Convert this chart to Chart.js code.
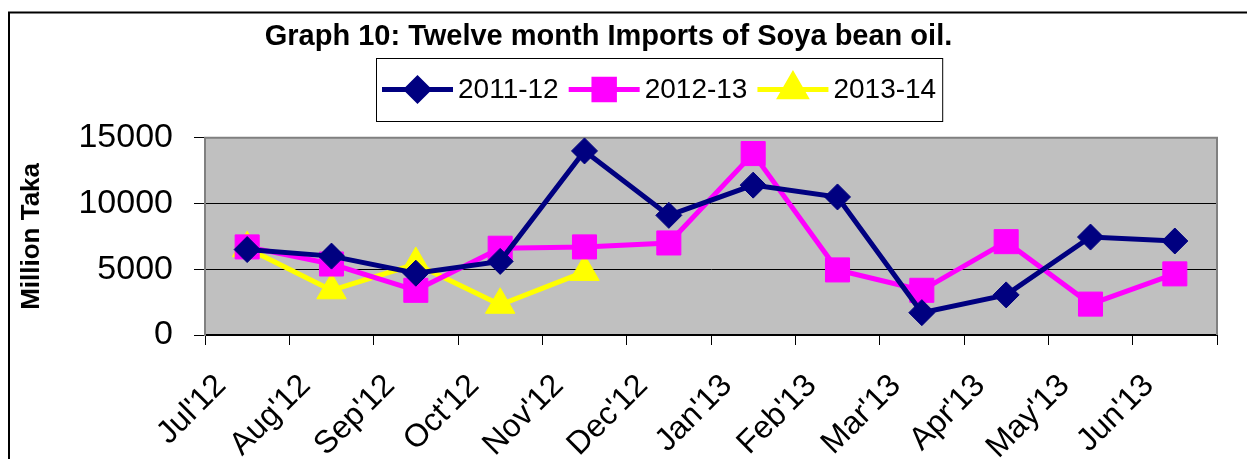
<!DOCTYPE html>
<html>
<head>
<meta charset="utf-8">
<script src="https://cdn.jsdelivr.net/npm/chart.js@4.4.0/dist/chart.umd.min.js"></script>
<style>
  html, body { margin: 0; padding: 0; background: #fff; }
  #wrap { position: relative; width: 1247px; height: 459px; }
</style>
</head>
<body>
<div id="wrap"><canvas id="chart"></canvas></div>
<script>
// Meses del eje x
const months = ["Jul'12", "Aug'12", "Sep'12", "Oct'12", "Nov'12", "Dec'12",
                "Jan'13", "Feb'13", "Mar'13", "Apr'13", "May'13", "Jun'13"];

// Importaciones (millones de Taka)
const imports1112 = [6500, 6000, 4700, 5600, 14000, 9100, 11400, 10500, 1700, 3050, 7450, 7150];
const imports1213 = [6700, 5400, 3400, 6600, 6700, 7000, 13800, 4950, 3400, 7100, 2350, 4650];
const imports1314 = [6600, 3400, 5400, 2300, 4800];

const seriesLabels = ['2011-12', '2012-13', '2013-14'];
const yTicks = [0, 5000, 10000, 15000];

const FONT = 'Arial, "Liberation Sans", sans-serif';

// Fondo gris del area de trazado y marco exterior
const plotBackground = {
  id: 'plotBackground',
  beforeDraw(chart) {
    const { ctx, chartArea: a } = chart;
    ctx.save();
    ctx.fillStyle = '#fff';
    ctx.fillRect(0, 0, chart.width, chart.height);
    ctx.fillStyle = '#C0C0C0';
    ctx.fillRect(a.left, a.top, a.right - a.left, a.bottom - a.top);
    ctx.restore();
  },
  beforeDatasetsDraw(chart) {
    const { ctx, chartArea: a } = chart;
    ctx.save();
    ctx.strokeStyle = '#808080';
    ctx.lineWidth = 2;
    ctx.beginPath();
    ctx.moveTo(a.left, a.bottom);
    ctx.lineTo(a.left, a.top);
    ctx.lineTo(a.right, a.top);
    ctx.lineTo(a.right, a.bottom);
    ctx.stroke();
    ctx.restore();
  },
  afterDraw(chart) {
    const ctx = chart.ctx;
    ctx.save();
    ctx.strokeStyle = '#000';
    ctx.lineWidth = 2;
    ctx.beginPath();
    ctx.moveTo(9, chart.height);
    ctx.lineTo(9, 12.5);
    ctx.lineTo(chart.width, 12.5);
    ctx.stroke();
    ctx.restore();
  }
};

// Leyenda con recuadro: linea + marcador + texto
const boxedLegend = {
  id: 'boxedLegend',
  afterDraw(chart) {
    const ctx = chart.ctx;
    const left = 376, top = 58, height = 63;
    const midY = top + height / 2;
    const lineLen = 71, gap = 5, itemGap = 10, pad = 6;
    ctx.save();
    ctx.font = '28px ' + FONT;
    ctx.textBaseline = 'middle';
    let x = left + pad;
    chart.data.datasets.forEach(ds => {
      ctx.strokeStyle = ds.borderColor;
      ctx.lineWidth = ds.borderWidth;
      ctx.beginPath();
      ctx.moveTo(x, midY);
      ctx.lineTo(x + lineLen, midY);
      ctx.stroke();
      ctx.fillStyle = ds.pointBackgroundColor;
      ctx.strokeStyle = ds.pointBorderColor;
      Chart.helpers.drawPoint(ctx, {
        pointStyle: ds.pointStyle, radius: ds.pointRadius * 0.85, borderWidth: 1, rotation: 0
      }, x + lineLen / 2, midY);
      ctx.fillStyle = '#000';
      ctx.fillText(ds.label, x + lineLen + gap, midY + 1);
      x += lineLen + gap + ctx.measureText(ds.label).width + itemGap;
    });
    ctx.strokeStyle = '#000';
    ctx.lineWidth = 1;
    ctx.strokeRect(left + 0.5, top + 0.5, x - itemGap + pad - left, height);
    ctx.restore();
  }
};

function makeSeries(label, data, color, style, radius) {
  return {
    label: label,
    data: data,
    borderColor: color,
    backgroundColor: color,
    borderWidth: 5,
    tension: 0,
    pointStyle: style,
    pointRadius: radius,
    pointHoverRadius: radius,
    pointBackgroundColor: color,
    pointBorderColor: color,
    pointBorderWidth: 1,
    clip: false
  };
}

new Chart(document.getElementById('chart'), {
  type: 'line',
  data: {
    labels: months,
    datasets: [
      makeSeries(seriesLabels[0], imports1112, '#000080', 'rectRot', 13),
      makeSeries(seriesLabels[1], imports1213, '#FF00FF', 'rect', 17),
      makeSeries(seriesLabels[2], imports1314, '#FFFF00', 'triangle', 17)
    ]
  },
  options: {
    responsive: true,
    maintainAspectRatio: false,
    animation: false,
    layout: { padding: { left: 0, right: 30, top: 0, bottom: 0 } },
    plugins: {
      legend: { display: false },
      tooltip: { enabled: false },
      title: {
        display: true,
        text: 'Graph 10: Twelve month Imports of Soya bean oil.',
        color: '#000',
        font: { family: FONT, size: 29, weight: 'bold', lineHeight: 1.2 },
        padding: { top: 20, bottom: 83 }
      }
    },
    scales: {
      x: {
        type: 'category',
        offset: true,
        afterFit(scale) { scale.height = 124; },
        grid: {
          offset: true,
          drawOnChartArea: false,
          color: '#000',
          tickColor: '#000',
          tickLength: 10
        },
        border: { color: '#000', width: 2 },
        ticks: {
          autoSkip: false,
          minRotation: 45,
          maxRotation: 45,
          labelOffset: -26,
          padding: 22,
          color: '#000',
          font: { family: FONT, size: 32 }
        }
      },
      y: {
        min: 0,
        max: 15000,
        afterFit(scale) { scale.width = 205; },
        afterBuildTicks(scale) { scale.ticks = yTicks.map(v => ({ value: v })); },
        grid: {
          color: ctx => (ctx.tick && ctx.tick.value === 15000) ? '#808080' : '#000',
          lineWidth: 1,
          tickColor: '#000',
          tickLength: 11
        },
        border: { color: '#808080', width: 2 },
        ticks: {
          padding: 21,
          color: '#000',
          font: { family: FONT, size: 34 },
          callback: v => String(v)
        },
        title: {
          display: true,
          text: 'Million Taka',
          color: '#000',
          font: { family: FONT, size: 26, weight: 'bold' },
          padding: { top: 16, bottom: 0 }
        }
      }
    }
  },
  plugins: [plotBackground, boxedLegend]
});
</script>
</body>
</html>
